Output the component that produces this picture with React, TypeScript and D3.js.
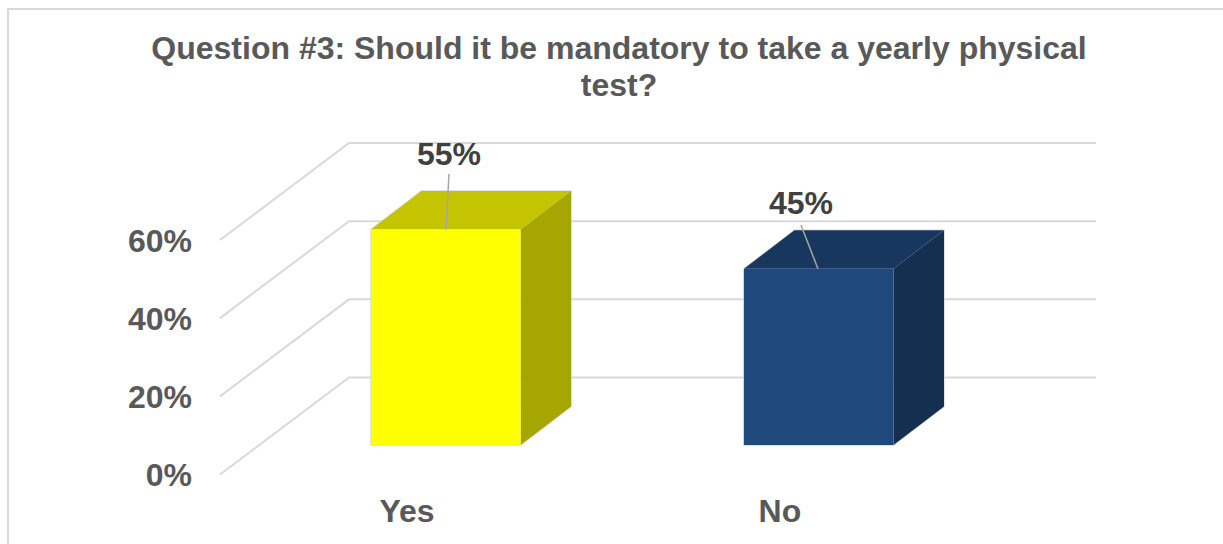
import React from "react";
import * as d3 from "d3";

const categories = ["Yes", "No"];
const shares = [55, 45];
const axisTicks = [0, 20, 40, 60];
const titleLines = ["Question #3: Should it be mandatory to take a yearly physical", "test?"];
const faceColors = [
  { front: "#ffff00", top: "#c4c400", side: "#a6a600" },
  { front: "#1f497d", top: "#17375e", side: "#152f50" },
];
// Where each value label sits, relative to its column's left edge.
const labelOffsets = [
  { x: 78, y: 165, leaderEndX: 75, leaderTopY: 174 },
  { x: 57, y: 214, leaderEndX: 74, leaderTopY: 225 },
];

const WIDTH = 1223;
const HEIGHT = 544;
const GREY_TEXT = "#595959";
const DARK_TEXT = "#404040";
const GRID = "#d9d9d9";
const FONT = "'Liberation Sans', Arial, sans-serif";
const FONT_SIZE = 32;

// Floor depth of the chart box, and the depth of each column inside it.
const WALL_DX = 129;
const WALL_DY = -97;
const BAR_DX = 50.5;
const BAR_DY = -38.5;
const BAR_BASE = 445;

const wallY = d3.scaleLinear().domain([0, 60]).range([474.5, 240]);
const barHeight = d3.scaleLinear().domain([0, 60]).range([0, 235]);
const barX = d3.scaleBand<string>().domain(categories).range([371, 893.5]).paddingInner(0.599).paddingOuter(0);

const poly = d3.line();
const closed = (pts: [number, number][]) => (poly(pts) ?? "") + "Z";

function Label(props: { x: number; y: number; anchor?: string; fill?: string; children: React.ReactNode }) {
  return (
    <text
      x={props.x}
      y={props.y}
      textAnchor={props.anchor ?? "middle"}
      fontFamily={FONT}
      fontWeight={700}
      fontSize={FONT_SIZE}
      fill={props.fill ?? GREY_TEXT}
    >
      {props.children}
    </text>
  );
}

export default function App() {
  const bw = barX.bandwidth();
  return (
    <svg
      width={WIDTH}
      height={HEIGHT}
      viewBox={`0 0 ${WIDTH} ${HEIGHT}`}
      style={{ position: "absolute", left: 0, top: 0, background: "#fff" }}
    >
      <path d="M8 544V9H1223" fill="none" stroke={GRID} strokeWidth={2} />

      {titleLines.map((line, i) => (
        <Label key={line} x={619} y={59 + i * 37}>
          {line}
        </Label>
      ))}

      {axisTicks.map((t) => {
        const y = wallY(t);
        const backY = y + WALL_DY;
        return (
          <g key={t}>
            <path
              d={poly([[220, y], [220 + WALL_DX, backY], [1096, backY]]) ?? ""}
              fill="none"
              stroke={GRID}
              strokeWidth={2}
            />
            <Label x={192} y={y + 11.5} anchor="end">
              {t}%
            </Label>
          </g>
        );
      })}

      {categories.map((c, i) => {
        const x0 = barX(c) ?? 0;
        const x1 = x0 + bw;
        const yTop = BAR_BASE - barHeight(shares[i]);
        const colors = faceColors[i];
        const label = labelOffsets[i];
        return (
          <g key={c}>
            {/* Faint outline round the whole column, under its three faces */}
            <path
              d={closed([
                [x0, BAR_BASE],
                [x0, yTop],
                [x0 + BAR_DX, yTop + BAR_DY],
                [x1 + BAR_DX, yTop + BAR_DY],
                [x1 + BAR_DX, BAR_BASE + BAR_DY],
                [x1, BAR_BASE],
              ])}
              fill="none"
              stroke={GRID}
              strokeWidth={1.5}
            />
            <path
              d={closed([[x0, yTop], [x0 + BAR_DX, yTop + BAR_DY], [x1 + BAR_DX, yTop + BAR_DY], [x1, yTop]])}
              fill={colors.top}
            />
            <path
              d={closed([[x1, yTop], [x1 + BAR_DX, yTop + BAR_DY], [x1 + BAR_DX, BAR_BASE + BAR_DY], [x1, BAR_BASE]])}
              fill={colors.side}
            />
            <rect x={x0} y={yTop} width={bw} height={BAR_BASE - yTop} fill={colors.front} />
            <line
              x1={x0 + label.x}
              y1={label.leaderTopY}
              x2={x0 + label.leaderEndX}
              y2={yTop}
              stroke="#a6a6a6"
              strokeWidth={1.5}
            />
            <Label x={x0 + label.x} y={label.y} fill={DARK_TEXT}>
              {shares[i]}%
            </Label>
            <Label x={x0 + 36} y={522}>
              {c}
            </Label>
          </g>
        );
      })}
    </svg>
  );
}
